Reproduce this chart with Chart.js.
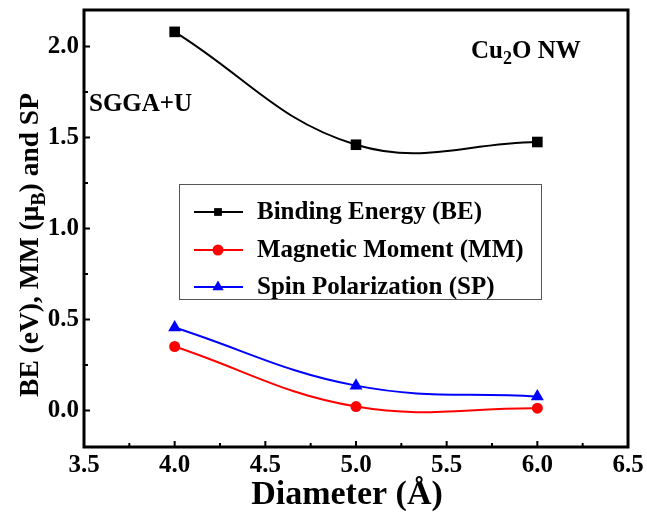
<!DOCTYPE html>
<html>
<head>
<meta charset="utf-8">
<script src="https://cdn.jsdelivr.net/npm/chart.js@4/dist/chart.umd.min.js"></script>
<style>
  body { margin: 0; background: #fff; }
  #wrap { width: 647px; height: 517px; }
</style>
</head>
<body>
<div id="wrap"><canvas id="myChart" width="647" height="517"></canvas></div>
<script>
// values
const diameters = [4.0, 5.0, 6.0]
const bindingEnergy = [2.08, 1.46, 1.475]
const magneticMoment = [0.352, 0.022, 0.013]
const spinPolarization = [0.456, 0.137, 0.077]

const seriesNames = ['Binding Energy (BE)', 'Magnetic Moment (MM)', 'Spin Polarization (SP)']
const xTicks = [3.5, 4.0, 4.5, 5.0, 5.5, 6.0, 6.5]
const xMinorTicks = [3.75, 4.25, 4.75, 5.25, 5.75, 6.25]
const yTicks = [0.0, 0.5, 1.0, 1.5, 2.0]
const yMinorTicks = [0.25, 0.75, 1.25, 1.75]

const serif = '"Liberation Serif", "Times New Roman", serif'

function toPoints(ys) {
    return diameters.map((d, i) => ({ x: d, y: ys[i] }))
}

function makeSet(label, ys, color, style, radius) {
    return {
        label: label,
        data: toPoints(ys),
        borderColor: color,
        backgroundColor: color,
        borderWidth: 2,
        pointStyle: style,
        pointRadius: radius,
        pointBorderWidth: 0,
        tension: 0.4
    }
}

// frame, inward ticks, titles, notes and the legend box
const decorations = {
    id: 'decorations',
    afterDraw(chart) {
        const ctx = chart.ctx
        const a = chart.chartArea
        const xs = chart.scales.x
        const ys = chart.scales.y
        ctx.save()

        // inward ticks on left and bottom
        ctx.strokeStyle = '#000'
        ctx.lineWidth = 2
        ctx.beginPath()
        for (let v of xTicks) {
            let px = xs.getPixelForValue(v)
            ctx.moveTo(px, a.bottom); ctx.lineTo(px, a.bottom - 6)
        }
        for (let v of xMinorTicks) {
            let px = xs.getPixelForValue(v)
            ctx.moveTo(px, a.bottom); ctx.lineTo(px, a.bottom - 4)
        }
        for (let v of yTicks) {
            let py = ys.getPixelForValue(v)
            ctx.moveTo(a.left, py); ctx.lineTo(a.left + 6, py)
        }
        for (let v of yMinorTicks) {
            let py = ys.getPixelForValue(v)
            ctx.moveTo(a.left, py); ctx.lineTo(a.left + 4, py)
        }
        ctx.stroke()

        // frame
        ctx.lineWidth = 3
        ctx.strokeRect(a.left, a.top, a.right - a.left, a.bottom - a.top)

        ctx.fillStyle = '#000'
        ctx.textBaseline = 'alphabetic'

        // x title
        ctx.font = 'bold 34px ' + serif
        ctx.textAlign = 'center'
        ctx.fillText('Diameter (Å)', 347, 504)

        // y title with subscript
        ctx.save()
        ctx.translate(38, 245)
        ctx.rotate(-Math.PI / 2)
        let big = 'bold 27.5px ' + serif
        let small = 'bold 20px ' + serif
        let parts = [['BE (eV), MM (μ', big, 0], ['B', small, 7], [') and SP', big, 0]]
        let total = 0
        for (let p of parts) { ctx.font = p[1]; total += ctx.measureText(p[0]).width }
        let cx = -total / 2
        ctx.textAlign = 'left'
        for (let p of parts) {
            ctx.font = p[1]
            ctx.fillText(p[0], cx, p[2])
            cx += ctx.measureText(p[0]).width
        }
        ctx.restore()

        // notes
        ctx.textAlign = 'left'
        ctx.font = 'bold 25px ' + serif
        ctx.fillText('SGGA+U', 89, 111)
        let nx = 471
        ctx.fillText('Cu', nx, 58)
        nx += ctx.measureText('Cu').width
        ctx.font = 'bold 18px ' + serif
        ctx.fillText('2', nx, 64)
        nx += ctx.measureText('2').width
        ctx.font = 'bold 25px ' + serif
        ctx.fillText('O NW', nx, 58)

        // legend box
        ctx.lineWidth = 1
        ctx.strokeStyle = '#555'
        ctx.fillStyle = '#fff'
        ctx.fillRect(179.5, 184.5, 362, 115)
        ctx.strokeRect(179.5, 184.5, 362, 115)
        const rows = [212, 250, 287]
        const sizes = [5.5, 5.5, 6.5]
        chart.data.datasets.forEach((ds, i) => {
            let y = rows[i]
            ctx.strokeStyle = ds.borderColor
            ctx.lineWidth = 2
            ctx.beginPath()
            ctx.moveTo(194, y); ctx.lineTo(243, y)
            ctx.stroke()
            ctx.fillStyle = ds.backgroundColor
            Chart.helpers.drawPoint(ctx, { pointStyle: ds.pointStyle, radius: sizes[i], borderWidth: 0, rotation: 0 }, 218, y)
            ctx.fillStyle = '#000'
            ctx.font = 'bold 25px ' + serif
            ctx.textAlign = 'left'
            ctx.textBaseline = 'middle'
            ctx.fillText(seriesNames[i], 257, y + 1)
        })
        ctx.restore()
    }
}

const ctx = document.getElementById('myChart').getContext('2d')
const myChart = new Chart(ctx, {
    type: 'line',
    data: {
        datasets: [
            makeSet(seriesNames[0], bindingEnergy, '#000000', 'rect', 7.5),
            makeSet(seriesNames[1], magneticMoment, '#ff0000', 'circle', 5.5),
            makeSet(seriesNames[2], spinPolarization, '#0000ff', 'triangle', 7.5)
        ]
    },
    options: {
        responsive: false,
        animation: false,
        layout: { padding: { top: 10, right: 19, left: 0, bottom: 0 } },
        plugins: {
            legend: { display: false },
            tooltip: { enabled: false }
        },
        scales: {
            x: {
                type: 'linear',
                min: 3.5,
                max: 6.5,
                afterBuildTicks: (scale) => { scale.ticks = xTicks.map(v => ({ value: v })) },
                afterFit: (scale) => {
                    scale.height = 70
                    scale.paddingLeft = 0
                    scale.paddingRight = 0
                },
                grid: { display: false, drawTicks: false },
                border: { display: false },
                ticks: {
                    color: '#000',
                    padding: 4,
                    maxRotation: 0,
                    font: { family: serif, size: 25, weight: 'bold' },
                    callback: (v) => v.toFixed(1)
                }
            },
            y: {
                type: 'linear',
                min: -0.2,
                max: 2.2,
                afterBuildTicks: (scale) => { scale.ticks = yTicks.map(v => ({ value: v })) },
                afterFit: (scale) => {
                    scale.width = 84
                    scale.paddingTop = 0
                    scale.paddingBottom = 0
                },
                grid: { display: false, drawTicks: false },
                border: { display: false },
                ticks: {
                    color: '#000',
                    padding: 5,
                    font: { family: serif, size: 25, weight: 'bold' },
                    callback: (v) => v.toFixed(1)
                }
            }
        }
    },
    plugins: [decorations]
})
</script>
</body>
</html>
